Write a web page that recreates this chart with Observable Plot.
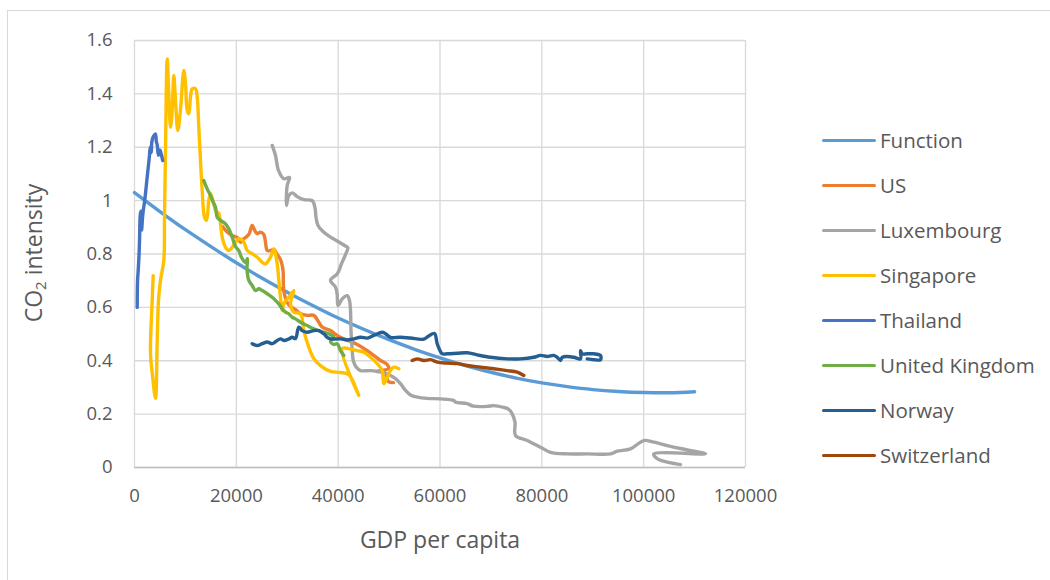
<!DOCTYPE html>
<html>
<head>
<meta charset="utf-8">
<script src="https://cdn.jsdelivr.net/npm/d3@7"></script>
<script src="https://cdn.jsdelivr.net/npm/@observablehq/plot@0.6"></script>
<style>
  html, body { margin: 0; padding: 0; background: #fff; }
  #wrap { position: relative; width: 1050px; height: 580px; overflow: hidden; font-family: "Open Sans", Lato, sans-serif; color: #595959; }
  #border { position: absolute; left: 7px; top: 10px; width: 1100px; height: 620px; border: 1px solid #d9d9d9; box-sizing: border-box; }
  #chart { position: absolute; left: 0; top: 0; }
  .legend-item { position: absolute; left: 822px; height: 28px; display: flex; align-items: center; font-size: 20.5px; }
  .legend-item .sw { width: 54px; height: 3px; border-radius: 2px; margin-right: 4px; }
  #xtitle { position: absolute; left: 440px; top: 539px; transform: translate(-50%, -50%); font-size: 23px; white-space: nowrap; }
  #ytitle { position: absolute; left: 33px; top: 253px; transform: translate(-50%, -50%) rotate(-90deg); font-size: 23px; white-space: nowrap; }
  #ytitle sub { font-size: 15px; vertical-align: -4px; }
</style>
</head>
<body>
<div id="wrap">
  <div id="border"></div>
  <div id="chart"></div>
  <div id="xtitle">GDP per capita</div>
  <div id="ytitle">CO<sub>2</sub> intensity</div>
</div>
<script>
const seriesNames = ["Function", "US", "Luxembourg", "Singapore", "Thailand", "United Kingdom", "Norway", "Switzerland"];
const seriesColors = ["#5B9BD5", "#ED7D31", "#A5A5A5", "#FFC000", "#4472C4", "#70AD47", "#255E91", "#9E480E"];

const xTicks = [0, 20000, 40000, 60000, 80000, 100000, 120000];
const yTicks = [0, 0.2, 0.4, 0.6, 0.8, 1, 1.2, 1.4, 1.6];

const functionGdp = [0,5000,10000,15000,20000,25000,30000,35000,40000,45000,50000,55000,60000,65000,70000,75000,80000,85000,90000,95000,100000,105000,110000];
const functionCo2 = [1.030,0.959,0.891,0.828,0.767,0.710,0.657,0.607,0.560,0.518,0.479,0.443,0.411,0.382,0.357,0.335,0.317,0.303,0.292,0.285,0.281,0.280,0.284];

const usGdp = [17283,18206,19188,20170,20818,21467,22449,23116,23627,24098,24746,25395,25728,26062,26710,27358,28026,28674,29067,29205,29323,29991,30638,31620,32602,33918,35214,36196,36864,38494,39810,41106,42422,43738,45702,47000,48314,49630,49886,47529,49100,49886,50868];
const usCo2 = [0.903,0.882,0.869,0.862,0.844,0.857,0.873,0.907,0.888,0.876,0.882,0.873,0.844,0.813,0.813,0.817,0.798,0.779,0.753,0.731,0.663,0.618,0.603,0.592,0.576,0.570,0.570,0.544,0.526,0.513,0.495,0.482,0.472,0.461,0.438,0.420,0.401,0.386,0.371,0.360,0.356,0.322,0.318];

const luxGdp = [27044,27692,28282,29323,30442,29991,29853,30305,30972,31954,33250,34900,35450,35647,36040,37021,38494,39967,41440,41892,41440,40655,39869,38494,39476,39810,39967,40792,41774,42226,42422,42521,42717,43012,43601,44386,46350,48314,50278,51457,52242,53224,54206,55522,57486,60098,62710,63044,65342,66580,69270,70567,72531,73454,74180,74730,74828,77126,79738,81702,84982,88910,93486,94802,97414,100027,101990,105270,108550,112144,101990,102658,104622,107234];
const luxCo2 = [1.207,1.169,1.113,1.082,1.087,1.057,0.982,1.019,1.029,1.015,1.004,1.000,0.974,0.938,0.907,0.884,0.863,0.847,0.830,0.824,0.798,0.764,0.727,0.701,0.676,0.648,0.607,0.632,0.644,0.626,0.588,0.513,0.451,0.397,0.375,0.363,0.363,0.358,0.345,0.330,0.314,0.289,0.272,0.264,0.259,0.257,0.251,0.245,0.239,0.230,0.229,0.232,0.225,0.219,0.201,0.170,0.120,0.101,0.076,0.057,0.051,0.051,0.051,0.061,0.070,0.101,0.095,0.079,0.066,0.051,0.051,0.033,0.020,0.011];

const sgGdp = [3673,3476,3142,3535,4124,4458,4714,5106,5755,5892,6088,6422,6736,7070,7404,7719,8052,8504,9022,9682,10016,10350,10665,10998,11332,11980,12314,12629,12962,13296,13748,14141,14593,14926,15575,15908,16557,16890,17224,17872,18520,19188,20485,21408,22134,23116,24098,25080,25728,26710,27358,28026,28340,28674,29008,29323,30305,31287,30638,31287,32602,33250,34232,35214,36530,38494,40458,42089,43404,44052,40792,42422,43738,45034,46350,47666,48648,48962,49630,50278,50926,51908];
const sgCo2 = [0.719,0.626,0.427,0.345,0.259,0.476,0.626,0.701,0.776,0.938,1.188,1.531,1.400,1.275,1.338,1.469,1.375,1.263,1.338,1.488,1.438,1.338,1.325,1.388,1.419,1.419,1.388,1.275,1.150,1.038,0.938,0.926,1.000,1.027,0.989,0.963,0.952,0.914,0.863,0.825,0.813,0.825,0.857,0.847,0.813,0.801,0.788,0.769,0.763,0.788,0.819,0.763,0.701,0.638,0.588,0.613,0.638,0.663,0.613,0.582,0.576,0.513,0.451,0.408,0.382,0.360,0.356,0.348,0.301,0.270,0.445,0.444,0.438,0.432,0.413,0.389,0.363,0.314,0.338,0.363,0.376,0.370];

const thGdp = [530,600,700,900,1000,1150,1300,1400,1550,1700,2000,2500,2900,3100,3300,3400,3700,4100,4300,4450,4700,5000,5300,5550];
const thCo2 = [0.60,0.70,0.73,0.80,0.86,0.95,0.96,0.89,0.93,0.96,1.00,1.09,1.16,1.20,1.18,1.22,1.24,1.25,1.22,1.21,1.17,1.19,1.17,1.15];

const ukGdp = [13611,14278,14926,15457,15908,16242,16890,17872,18520,19188,19836,20485,21015,21800,22193,22095,22449,23116,23764,24412,25080,26062,27044,27692,28340,29008,29656,30305,30972,31620,32602,33918,35214,37178,38160,39142,38494,39142,39810,40458,41106];
const ukCo2 = [1.075,1.044,1.019,0.994,0.975,0.938,0.926,0.913,0.894,0.863,0.828,0.813,0.787,0.768,0.783,0.746,0.701,0.682,0.663,0.670,0.663,0.651,0.638,0.626,0.613,0.595,0.582,0.576,0.563,0.557,0.544,0.532,0.520,0.507,0.501,0.488,0.472,0.461,0.464,0.438,0.420];

const noGdp = [23116,24098,25080,26062,27044,27889,28674,29323,30246,30972,31620,32268,32936,33918,35214,36196,37178,37846,38494,40458,41774,43070,44386,45702,47000,48648,49296,50278,52242,54206,56818,57800,58920,59450,60000,60432,61414,63378,65342,67306,69918,73198,75810,78422,79738,81054,82350,83077,83666,84000,84982,86278,87594,87594,87928,88910,90206,91522,91522,90206,88910];
const noCo2 = [0.464,0.457,0.464,0.470,0.464,0.474,0.482,0.476,0.481,0.488,0.483,0.526,0.513,0.507,0.513,0.513,0.501,0.488,0.482,0.482,0.478,0.482,0.488,0.485,0.495,0.507,0.501,0.488,0.488,0.485,0.481,0.493,0.502,0.464,0.438,0.426,0.426,0.428,0.430,0.422,0.413,0.407,0.407,0.413,0.420,0.416,0.420,0.412,0.401,0.413,0.416,0.413,0.407,0.438,0.426,0.426,0.426,0.420,0.404,0.404,0.407];

const chGdp = [54540,55522,56818,58134,59450,61414,63378,65342,67954,70567,73198,75162,76458];
const chCo2 = [0.401,0.407,0.401,0.404,0.395,0.391,0.389,0.382,0.376,0.370,0.363,0.357,0.345];

const seriesGdp = [functionGdp, usGdp, luxGdp, sgGdp, thGdp, ukGdp, noGdp, chGdp];
const seriesCo2 = [functionCo2, usCo2, luxCo2, sgCo2, thCo2, ukCo2, noCo2, chCo2];

const rows = [];
seriesNames.forEach((name, i) => {
  seriesGdp[i].forEach((g, j) => rows.push({series: name, gdp: g, co2: seriesCo2[i][j], order: i}));
});

const fmtY = d => String(+d.toFixed(1));

const chart = Plot.plot({
  width: 1050,
  height: 580,
  marginLeft: 134,
  marginRight: 305,
  marginTop: 40,
  marginBottom: 113,
  style: {fontFamily: "'Open Sans', Lato, sans-serif", fontSize: "18.5px", color: "#595959", background: "transparent"},
  x: {domain: [0, 120000], ticks: xTicks, tickFormat: d => String(d), label: null, tickSize: 0, tickPadding: 21},
  y: {domain: [0, 1.6], ticks: yTicks, tickFormat: fmtY, label: null, tickSize: 0, tickPadding: 22},
  color: {domain: seriesNames, range: seriesColors},
  marks: [
    Plot.gridX(xTicks, {stroke: "#d9d9d9", strokeOpacity: 1, strokeWidth: 1.3}),
    Plot.gridY(yTicks, {stroke: "#d9d9d9", strokeOpacity: 1, strokeWidth: 1.3}),
    Plot.ruleY([0], {stroke: "#bfbfbf", strokeWidth: 1.3}),
    ...seriesNames.map(name => Plot.line(rows.filter(r => r.series === name), {
      x: "gdp", y: "co2", stroke: d => d.series, strokeWidth: 3.4, curve: "catmull-rom", strokeLinejoin: "round", strokeLinecap: "round"
    }))
  ]
});
document.getElementById("chart").appendChild(chart);

const wrap = document.getElementById("wrap");
seriesNames.forEach((name, i) => {
  const item = document.createElement("div");
  item.className = "legend-item";
  item.style.top = (140 + i * 45 - 14) + "px";
  const sw = document.createElement("div");
  sw.className = "sw";
  sw.style.background = seriesColors[i];
  const label = document.createElement("span");
  label.textContent = name;
  item.appendChild(sw);
  item.appendChild(label);
  wrap.appendChild(item);
});
</script>
</body>
</html>
